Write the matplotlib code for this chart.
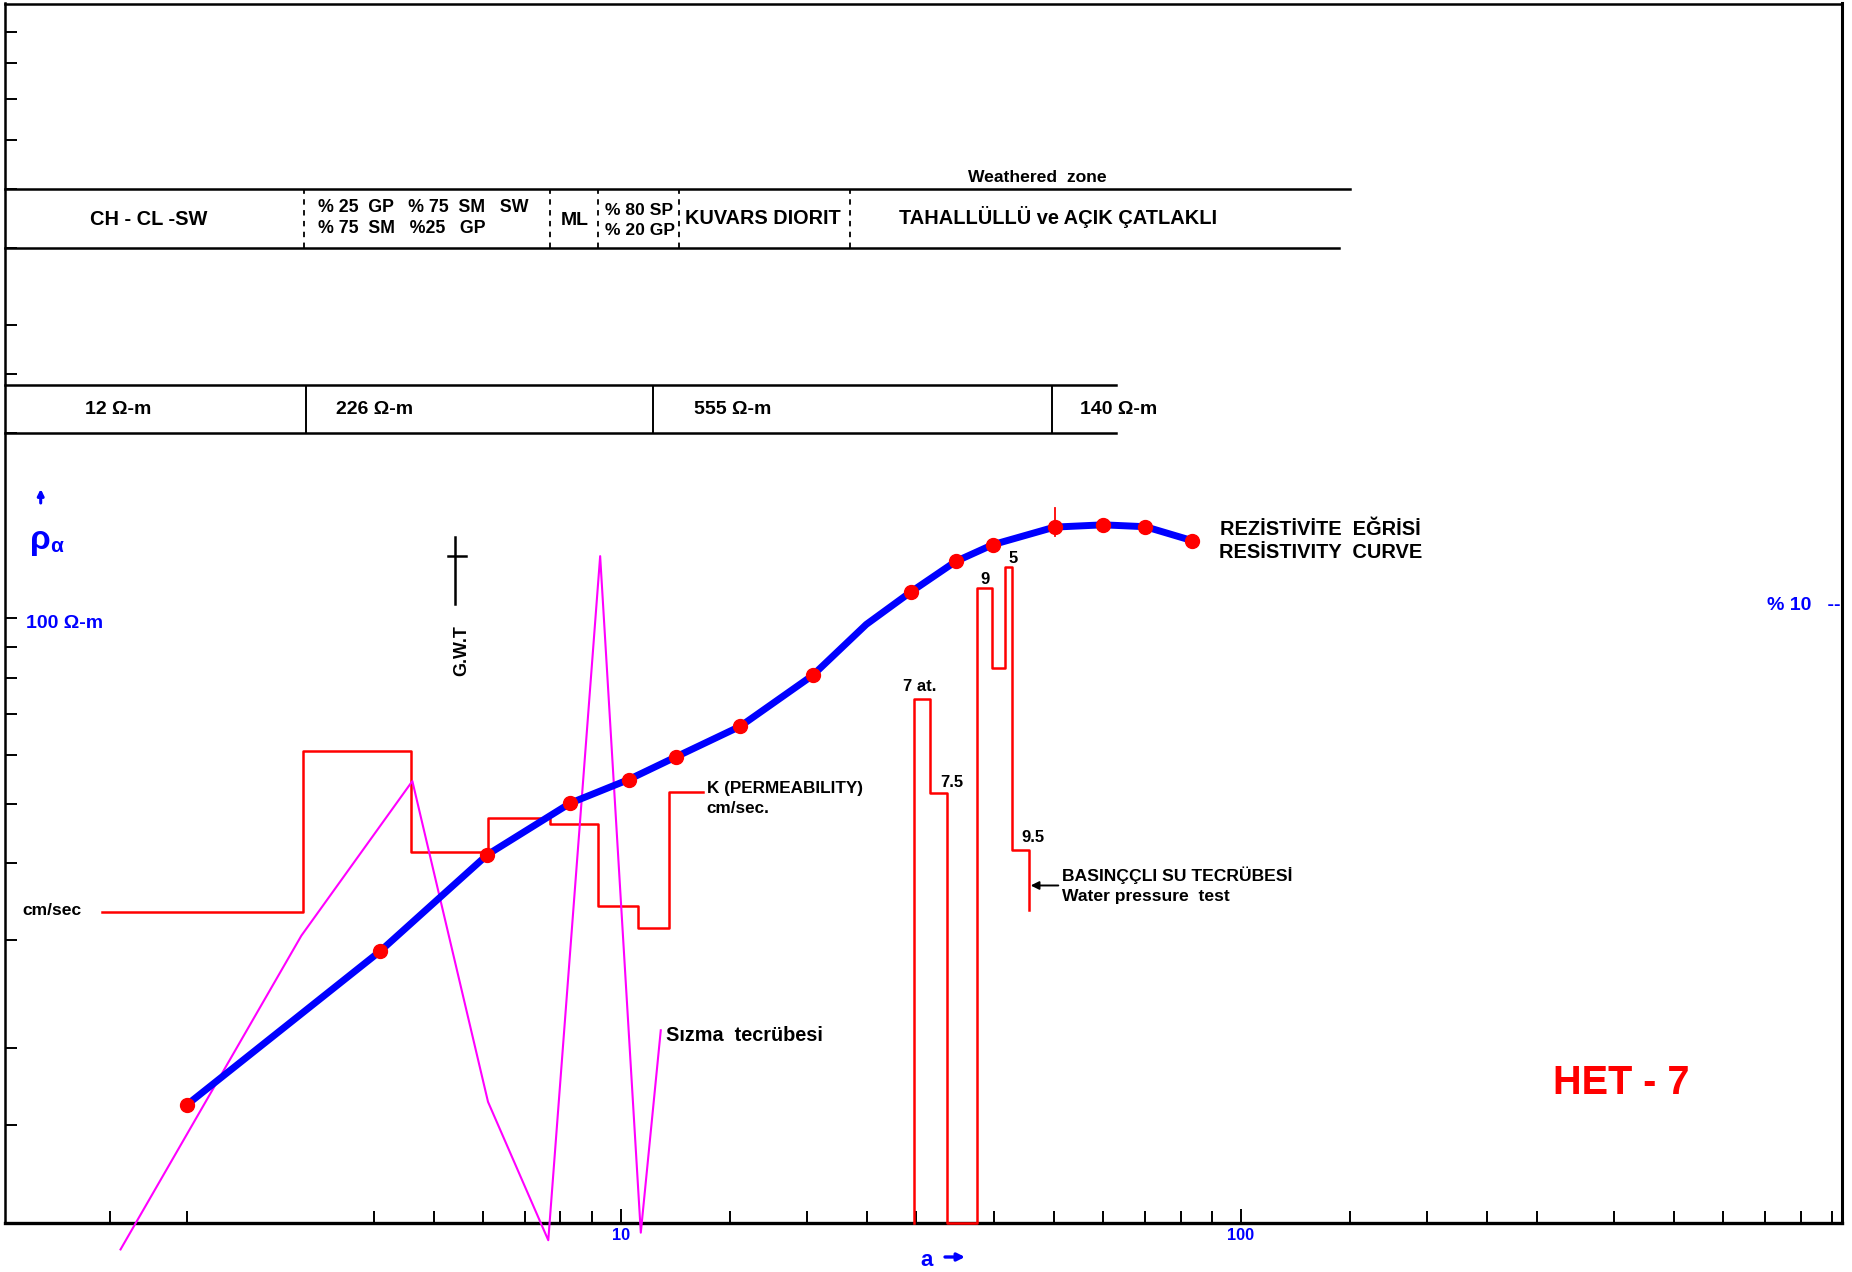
import matplotlib
matplotlib.use('Agg')
import matplotlib.pyplot as plt
import numpy as np
from matplotlib.ticker import FixedLocator, FixedFormatter, NullFormatter

plt.rcParams['font.family'] = ['Liberation Sans', 'DejaVu Sans']
plt.rcParams['font.weight'] = 'bold'

W, H = 1852, 1272

# ---------------- data ----------------
# apparent resistivity curve  (AB/2 [m] , rho_a [ohm-m])
ab2 = [2.0, 4.1, 6.1, 8.3, 10.3, 12.3, 15.6, 20.4, 24.9, 29.4, 34.7, 39.8, 50.1, 60.0, 70.2, 83.4]
rho_a = [16.2, 28.8, 41.3, 50.1, 54.7, 59.6, 66.8, 80.8, 97.8, 110.5, 123.8, 131.8, 140.8, 142.0, 141.0, 133.9]
measured = [True] * 8 + [False] + [True] * 7

# permeability K step curve
k_edges = [1.46, 3.08, 4.60, 6.11, 7.70, 9.21, 10.66, 11.96, 13.6]
k_levels = [33.3, 60.9, 41.7, 47.4, 46.4, 34.1, 31.4, 52.2]

# infiltration test (Sizma tecrubesi)
sizma_x = [1.562, 3.057, 4.616, 6.113, 7.646, 9.27, 10.78, 11.61]
sizma_y = [9.42, 30.5, 54.4, 16.37, 9.75, 126.3, 10.03, 21.4]

# water pressure test steps (nan = on the axis)
p_edges = [29.74, 31.56, 33.6, 37.57, 39.68, 41.69, 42.74, 45.62]
p_levels = [74.0, 52.0, np.nan, 112.0, 83.1, 121.2, 42.1]
p_end = 33.6
p_labels = ['7 at.', '7.5', '', '9', '', '5', '9.5']

# layer boundaries
lith_bounds = [3.09, 7.70, 9.19, 12.43, 23.4]
res_bounds = [3.11, 11.3, 49.6]
res_labels = ['12 Ω-m', '226 Ω-m', '555 Ω-m', '140 Ω-m']
gwt_depth = 5.41

x_minor = [1.5, 2, 4, 5, 6, 7, 8, 9, 15, 20, 25, 30, 40, 50, 60, 70, 80, 90,
           150, 200, 250, 300, 400, 500, 600, 700, 800, 900]
x_major = [10, 100]
y_minor = [15, 20, 30, 40, 50, 60, 70, 80, 90, 200, 250, 300, 400, 500, 600, 700, 800, 900]

XMIN, XMAX = 1.016, 931
YMIN, YMAX = 10.4, 1000

# ---------------- figure ----------------
fig = plt.figure(figsize=(W / 100, H / 100), dpi=100)
L, R, T_, B = 4.7, 1841.6, 3.5, 1223
ax = fig.add_axes([L / W, 1 - B / H, (R - L) / W, (B - T_) / H])
ax.set_xscale('log')
ax.set_yscale('log')
ax.set_xlim(XMIN, XMAX)
ax.set_ylim(YMIN, YMAX)
for s in ax.spines.values():
    s.set_linewidth(1.8)
ax.spines['bottom'].set_linewidth(2.4)
ax.spines['right'].set_linewidth(2.2)

ax.xaxis.set_major_locator(FixedLocator(x_major))
ax.xaxis.set_major_formatter(FixedFormatter([str(v) for v in x_major]))
ax.xaxis.set_minor_locator(FixedLocator(x_minor))
ax.xaxis.set_minor_formatter(NullFormatter())
ax.yaxis.set_major_locator(FixedLocator([100]))
ax.yaxis.set_minor_locator(FixedLocator(y_minor))
ax.yaxis.set_major_formatter(NullFormatter())
ax.yaxis.set_minor_formatter(NullFormatter())
ax.tick_params(axis='x', which='both', direction='in', top=False, width=1.4,
               color='black', labelcolor='blue', labelsize=11.7, pad=3.5)
ax.tick_params(axis='x', which='major', length=10)
ax.tick_params(axis='x', which='minor', length=8.6)
ax.tick_params(axis='y', which='both', direction='in', right=False, left=True,
               length=8.6, width=1.4, labelleft=False)
for lbl in ax.get_xticklabels():
    lbl.set_fontweight('bold')

# tables
ax.plot([XMIN, 150], [500, 500], color='black', lw=1.8, clip_on=False)
ax.plot([XMIN, 144], [400, 400], color='black', lw=1.8, clip_on=False)
ax.vlines(lith_bounds, 400, 500, colors='black', lw=1.3, linestyles=(0, (3, 3)))
ax.plot([XMIN, 63], [240, 240], color='black', lw=1.8, clip_on=False)
ax.plot([XMIN, 63], [200, 200], color='black', lw=1.8, clip_on=False)
ax.vlines(res_bounds, 200, 240, colors='black', lw=1.4)

# permeability steps
kx = np.repeat(k_edges, 2)[1:-1]
ky = np.repeat(k_levels, 2)
ax.plot(kx, ky, color='#ff0000', lw=1.8, zorder=3)

# infiltration test
ax.plot(sizma_x, sizma_y, color='#ff00ff', lw=1.5, clip_on=False, zorder=3)

# water pressure test
pl = np.where(np.isnan(p_levels), YMIN, p_levels)
px_ = np.concatenate([[p_edges[0]], np.repeat(p_edges, 2)[1:-1], [p_edges[-1]]])
py_ = np.concatenate([[YMIN], np.repeat(pl, 2), [p_end]])
ax.plot(px_, py_, color='#ff0000', lw=1.8, clip_on=False, zorder=3)

# resistivity curve
ax.plot(ab2, rho_a, color='#0000ff', lw=5, solid_capstyle='round', solid_joinstyle='round', zorder=4)
m = np.array(measured)
ax.plot(np.array(ab2)[m], np.array(rho_a)[m], 'o', color='#ff0000', ms=10, zorder=5)
ax.plot([50.1, 50.1], [136, 151], color='#ff0000', lw=1.3, zorder=5)

# ground water table symbol
ax.plot([gwt_depth, gwt_depth], [105.4, 135.8], color='black', lw=1.8)
ax.plot([gwt_depth / 1.026, gwt_depth * 1.04], [126.3, 126.3], color='black', lw=1.8)

# water pressure arrow
ax.annotate('', xy=(p_edges[-1] * 1.005, 36.8), xytext=(50.8, 36.8),
            arrowprops=dict(arrowstyle='-|>', color='black', lw=1.4, mutation_scale=12,
                            shrinkA=0, shrinkB=0))


def T(x, yc, s, size, ha='left', color='black', **kw):
    """text placed in pixel coordinates (yc = visual centre of capitals)"""
    fig.text(x / W, 1 - (yc + 0.5 * size) / H, s, fontsize=size, ha=ha,
             va='baseline', color=color, fontweight='bold', **kw)


def arrow(x0, y0, x1, y1, color, lw=2.0, ms=11):
    fig.add_artist(matplotlib.patches.FancyArrowPatch(
        (x0 / W, 1 - y0 / H), (x1 / W, 1 - y1 / H), transform=fig.transFigure,
        arrowstyle='-|>', color=color, lw=lw, mutation_scale=ms,
        shrinkA=0, shrinkB=0))


# table texts
T(1037.5, 176, 'Weathered  zone', 12.6, ha='center')
T(149, 218, 'CH - CL -SW', 14.4, ha='center')
T(318.3, 206, '% 25  GP   % 75  SM   SW', 12.8)
T(318.3, 227, '% 75  SM   %25   GP', 12.8)
T(574.5, 218, 'ML', 14, ha='center')
T(604.8, 208.3, '% 80 SP', 12.6)
T(604.8, 228.7, '% 20 GP', 12.6)
T(762.4, 217, 'KUVARS DIORIT', 14.3, ha='center')
T(1058, 217, 'TAHALLÜLLÜ ve AÇIK ÇATLAKLI', 14.4, ha='center')
for xl, s in zip([85, 336, 694.5, 1080], res_labels):
    T(xl, 406.5, s, 14)

# axis annotations
arrow(40.7, 503, 40.7, 489, 'blue', lw=2.2, ms=9)
T(29.5, 537, 'ρ', 24, color='blue')
T(50.5, 545, 'α', 15, color='blue')
T(26, 621, '100 Ω-m', 14, color='blue')
fig.text(920.7 / W, 1 - 1266 / H, 'a', fontsize=16, color='blue',
         fontweight='bold', ha='left', va='baseline')
arrow(945, 1257, 965, 1257, 'blue', lw=2.4, ms=11)
T(1767, 602.7, '% 10   --', 14, color='blue')

fig.text(461.7 / W, 1 - 650.7 / H, 'G.W.T', fontsize=12.9, rotation=90,
         ha='center', va='center', fontweight='bold')

T(706.7, 787.3, 'K (PERMEABILITY)', 12.3)
T(706.7, 806.7, 'cm/sec.', 12.3)
T(22.3, 908.3, 'cm/sec', 12.6)
T(665.6, 1034, 'Sızma  tecrübesi', 14.3)

# pressure labels
for (xc, yc), s in zip([(920, 685), (952, 781), (985, 578), (1013.3, 557), (1033, 836)],
                       [l for l in p_labels if l]):
    T(xc, yc, s, 12, ha='center')
T(1062.3, 874.3, 'BASINÇÇLI SU TECRÜBESİ', 12.6)
T(1062.3, 894.3, 'Water pressure  test', 12.6)

T(1220, 528.3, 'REZİSTİVİTE  EĞRİSİ', 14.4)
T(1219, 550.7, 'RESİSTIVITY  CURVE', 14.4)
T(1553.4, 1080, 'HET - 7', 28.5, color='#ff0000')

fig.savefig('out.png', dpi=100)
